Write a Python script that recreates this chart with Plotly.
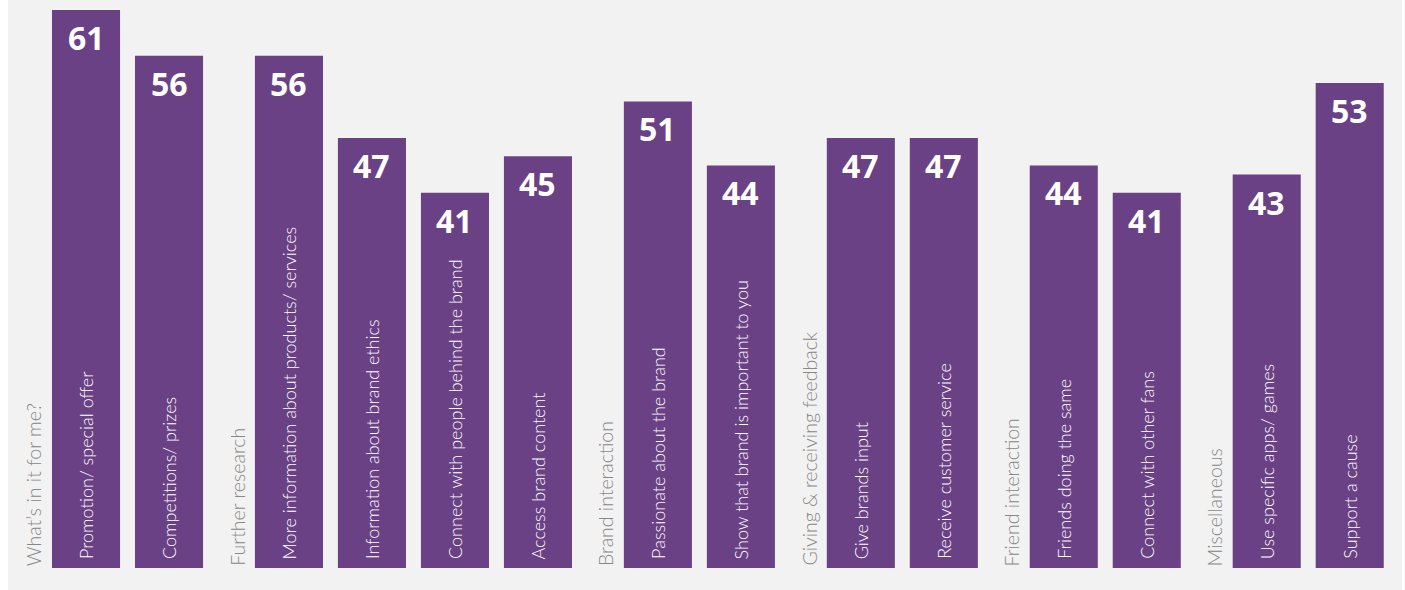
import plotly.graph_objects as go

# Survey results: reasons for engaging with brands, grouped by motive
group_names = [
    "What’s in it for me?",
    "Further research",
    "Brand interaction",
    "Giving & receiving feedback",
    "Friend interaction",
    "Miscellaneous",
]
bar_groups = [0, 0, 1, 1, 1, 1, 2, 2, 3, 3, 4, 4, 5, 5]
bar_labels = [
    "Promotion/ special offer",
    "Competitions/ prizes",
    "More information about products/ services",
    "Information about brand ethics",
    "Connect with people behind the brand",
    "Access brand content",
    "Passionate about the brand",
    "Show that brand is important to you",
    "Give brands input",
    "Receive customer service",
    "Friends doing the same",
    "Connect with other fans",
    "Use specific apps/ games",
    "Support a cause",
]
bar_values = [61, 56, 56, 47, 41, 45, 51, 44, 47, 47, 44, 41, 43, 53]

PURPLE = "#6a4185"
PANEL = "#f2f2f2"
GREY_TEXT = "#878787"

# Layout of the category axis: one unit per bar, extra room between groups
GROUP_GAP = 1.445
LABEL_OFFSET = 0.63
BAR_WIDTH = 0.82

xs = []
group_x = {}
cursor = 0.0
prev_group = None
for g in bar_groups:
    if prev_group is not None:
        cursor += GROUP_GAP if g != prev_group else 1.0
    if g != prev_group:
        group_x[g] = cursor - LABEL_OFFSET
    xs.append(cursor)
    prev_group = g

fig = go.Figure(
    go.Bar(
        x=xs,
        y=bar_values,
        width=BAR_WIDTH,
        marker=dict(color=PURPLE, line=dict(width=0)),
        hoverinfo="skip",
    )
)

annotations = []
for x, v, lab in zip(xs, bar_values, bar_labels):
    annotations.append(dict(
        x=x, y=v, xref="x", yref="y", text=f"<b>{v}</b>", showarrow=False,
        xanchor="center", yanchor="top", yshift=-4,
        font=dict(family="Open Sans", size=32, color="white"),
    ))
    annotations.append(dict(
        x=x, y=0, xref="x", yref="y", text=lab, showarrow=False, textangle=-90,
        xanchor="center", yanchor="bottom", yshift=7,
        font=dict(family="Lato", size=18, color="white", weight=300),
    ))
for g, name in enumerate(group_names):
    annotations.append(dict(
        x=group_x[g], y=0, xref="x", yref="y", text=name, showarrow=False, textangle=-90,
        xanchor="center", yanchor="bottom", yshift=0,
        font=dict(family="Lato", size=19.5, color=GREY_TEXT, weight=300),
    ))

fig.update_layout(
    width=1405,
    height=590,
    margin=dict(l=8, r=3, t=0, b=0),
    paper_bgcolor="white",
    plot_bgcolor=PANEL,
    showlegend=False,
    annotations=annotations,
    xaxis=dict(range=[-0.94, 15.855], visible=False, fixedrange=True),
    yaxis=dict(range=[-2.404, 62.08], visible=False, fixedrange=True),
)

fig.write_html("out.html", config={"displayModeBar": False})
